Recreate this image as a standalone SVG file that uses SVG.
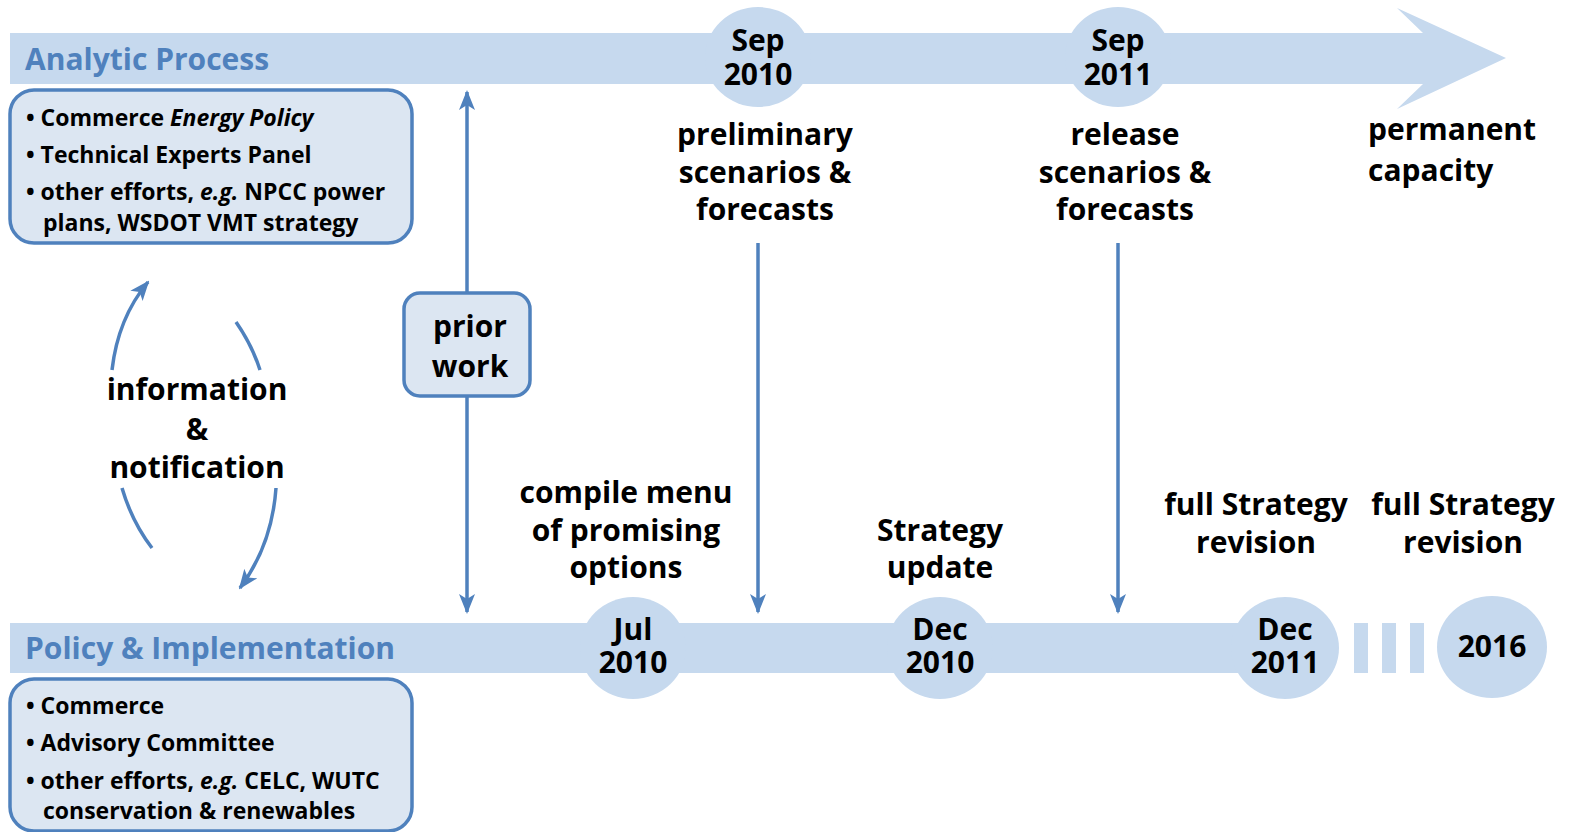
<svg xmlns="http://www.w3.org/2000/svg" width="1569" height="832" viewBox="0 0 1569 832">
<defs>
<style>
.band{fill:#c6d9ee}
.box{fill:#dce6f2;stroke:#4f81bd;stroke-width:3.5}
.t{font-family:"Open Sans",Lato,"Liberation Sans",sans-serif;font-weight:700;fill:#000}
.big{font-size:30px}
.med{font-size:23px}
.hdr{font-family:"Open Sans",Lato,"Liberation Sans",sans-serif;font-weight:700;font-size:30px;fill:#4f81bd}
.c{text-anchor:middle}
.ln{stroke:#4f81bd;stroke-width:3.5;fill:none}
</style>
<marker id="ah" viewBox="0 0 20 16" refX="18" refY="8" markerWidth="20" markerHeight="16" markerUnits="userSpaceOnUse" orient="auto-start-reverse">
<path d="M0,0 L20,8 L0,16 L5,8 z" fill="#4f81bd"/>
</marker>
</defs>
<rect width="1569" height="832" fill="#fff"/>

<g id="analytic-band">
<path class="band" d="M10,33 H1423 L1397,8 L1506,58 L1397,109 L1423,84 H10 z"/>
<text class="hdr" x="25" y="70">Analytic Process</text>
</g>

<g id="policy-band">
<rect class="band" x="10" y="623" width="1280" height="50"/>
<rect class="band" x="1354" y="623" width="14" height="50"/>
<rect class="band" x="1382" y="623" width="14" height="50"/>
<rect class="band" x="1410" y="623" width="14" height="50"/>
<text class="hdr" x="25" y="659">Policy &amp; Implementation</text>
</g>

<g id="analytic-box">
<rect class="box" x="10" y="90" width="402" height="153" rx="24"/>
<text class="t med" x="26" y="126">• Commerce <tspan font-style="italic">Energy Policy</tspan></text>
<text class="t med" x="26" y="163">• Technical Experts Panel</text>
<text class="t med" x="26" y="200">• other efforts, <tspan font-style="italic">e.g.</tspan> NPCC power</text>
<text class="t med" x="43" y="231">plans, WSDOT VMT strategy</text>
</g>

<g id="policy-box">
<rect class="box" x="10" y="679" width="402" height="152" rx="24"/>
<text class="t med" x="26" y="714">• Commerce</text>
<text class="t med" x="26" y="751">• Advisory Committee</text>
<text class="t med" x="26" y="789">• other efforts, <tspan font-style="italic">e.g.</tspan> CELC, WUTC</text>
<text class="t med" x="43" y="819">conservation &amp; renewables</text>
</g>

<g id="connectors">
<line class="ln" x1="467" y1="92" x2="467" y2="612" marker-start="url(#ah)" marker-end="url(#ah)"/>
<line class="ln" x1="758" y1="243" x2="758" y2="612" marker-end="url(#ah)"/>
<line class="ln" x1="1118" y1="243" x2="1118" y2="612" marker-end="url(#ah)"/>
<path class="ln" d="M112,370 Q118,318 148,282" marker-end="url(#ah)"/>
<path class="ln" d="M236,322 Q252,345 260,370"/>
<path class="ln" d="M122,488 Q132,522 152,548"/>
<path class="ln" d="M276,488 Q272,545 240,588" marker-end="url(#ah)"/>
</g>

<g id="prior-work">
<rect class="box" x="404" y="293" width="126" height="103" rx="16"/>
<text class="t big c" x="470" y="337">prior<tspan x="470" y="377">work</tspan></text>
</g>

<g id="info-label">
<text class="t big c" x="197" y="400">information<tspan x="197" y="440">&amp;</tspan><tspan x="197" y="478">notification</tspan></text>
</g>

<g id="sep2010">
<ellipse class="band" cx="758" cy="57" rx="53" ry="50"/>
<text class="t big c" x="758" y="51">Sep<tspan x="758" y="85">2010</tspan></text>
<text class="t big c" x="765" y="145">preliminary<tspan x="765" y="183">scenarios &amp;</tspan><tspan x="765" y="220">forecasts</tspan></text>
</g>

<g id="sep2011">
<ellipse class="band" cx="1118" cy="57" rx="53" ry="50"/>
<text class="t big c" x="1118" y="51">Sep<tspan x="1118" y="85">2011</tspan></text>
<text class="t big c" x="1125" y="145">release<tspan x="1125" y="183">scenarios &amp;</tspan><tspan x="1125" y="220">forecasts</tspan></text>
</g>

<g id="permanent">
<text class="t big" x="1368" y="140">permanent<tspan x="1368" y="181">capacity</tspan></text>
</g>

<g id="jul2010">
<ellipse class="band" cx="633" cy="648" rx="53" ry="51"/>
<text class="t big c" x="633" y="640">Jul<tspan x="633" y="673">2010</tspan></text>
<text class="t big c" x="626" y="503">compile menu<tspan x="626" y="541">of promising</tspan><tspan x="626" y="578">options</tspan></text>
</g>

<g id="dec2010">
<ellipse class="band" cx="940" cy="648" rx="53" ry="51"/>
<text class="t big c" x="940" y="640">Dec<tspan x="940" y="673">2010</tspan></text>
<text class="t big c" x="940" y="541">Strategy<tspan x="940" y="578">update</tspan></text>
</g>

<g id="dec2011">
<ellipse class="band" cx="1285" cy="648" rx="54" ry="51"/>
<text class="t big c" x="1285" y="640">Dec<tspan x="1285" y="673">2011</tspan></text>
<text class="t big c" x="1256" y="515">full Strategy<tspan x="1256" y="553">revision</tspan></text>
</g>

<g id="y2016">
<ellipse class="band" cx="1492" cy="647" rx="55" ry="51"/>
<text class="t big c" x="1492" y="657">2016</text>
<text class="t big c" x="1463" y="515">full Strategy<tspan x="1463" y="553">revision</tspan></text>
</g>
</svg>
